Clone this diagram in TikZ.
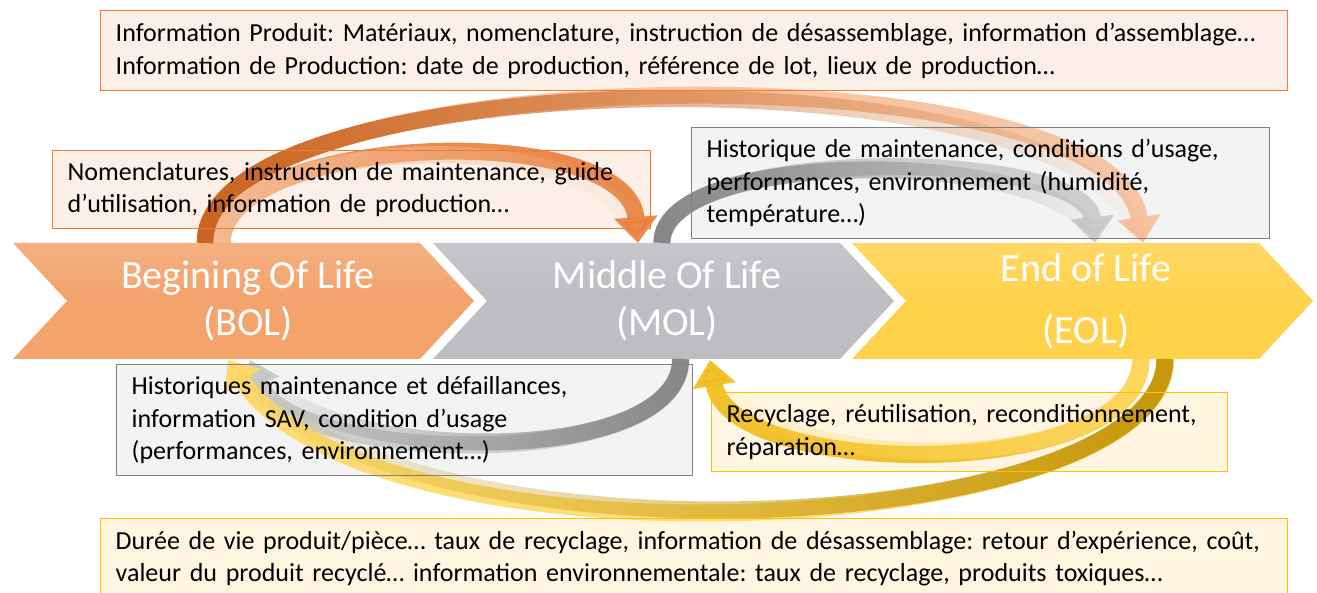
\documentclass[tikz,border=0pt]{standalone}
\usepackage{fontspec}
\setmainfont{Carlito}
\frenchspacing
\usetikzlibrary{arrows.meta,fadings}

\definecolor{bolorange}{HTML}{F3A36C}
\definecolor{molgray}{HTML}{BDBDC2}
\definecolor{eolyellow}{HTML}{FFD24C}
\definecolor{orgline}{HTML}{ED7D31}
\definecolor{orgfill}{HTML}{FBEFE7}
\definecolor{grayline}{HTML}{808080}
\definecolor{grayfill}{HTML}{F3F3F3}
\definecolor{yelline}{HTML}{FFC000}
\definecolor{yelfill}{HTML}{FFF5E1}
\definecolor{orgdark}{HTML}{C55A11}
\definecolor{orgmid}{HTML}{E8803C}
\definecolor{orglight}{HTML}{F6BF9A}
\definecolor{arrgray}{HTML}{7F7F7F}
\definecolor{arrgraylight}{HTML}{C9C9C9}
\definecolor{yeldark}{HTML}{BF9000}
\definecolor{yelmid}{HTML}{F0BC1A}
\definecolor{yellight}{HTML}{FFD966}

\pgfdeclarelayer{back}
\pgfdeclarelayer{flow}
\pgfsetlayers{back,flow,main}

\tikzset{
	infobox/.style={draw=#1, line width=1.4pt, anchor=north west, inner xsep=15pt,
		inner ysep=0pt, align=left, font=\fontsize{26}{32.5}\selectfont},
	phase/.style={text=white, align=center, inner sep=0pt, font=\fontsize{40}{47}\selectfont},
	flowarrow/.style n args={3}{line width=17pt, -{Triangle[length=26pt,width=42pt]}, draw=#1, opacity=0.9,
		postaction={draw=#2, path fading=#3, -}},
}

\begin{document}
\begin{tikzpicture}[x=1pt,y=-1pt]
	\useasboundingbox (0,0) rectangle (1317,593);

	% les trois phases
	\begin{pgfonlayer}{back}
		\foreach \x/\c in {13/bolorange, 433/molgray, 852/eolyellow} {
			\fill[\c] (\x,243) -- ++(407,0) -- ++(54,58) -- ++(-54,58) -- ++(-407,0) -- ++(54,-58) -- cycle;
			\fill[white, opacity=0.15, path fading=south] (\x,243) -- ++(407,0) -- ++(54,58) -- ++(-407,0) -- cycle;
		}
	\end{pgfonlayer}
	\node[phase] (bol) at (248,301) {Begining Of Life\\(BOL)};
	\node[phase] (mol) at (667,301) {Middle Of Life\\(MOL)};
	\node[phase, font=\fontsize{40}{62}\selectfont] (eol) at (1086,301) {End of Life\\(EOL)};

	% bouts des fleches
	\coordinate (bol a) at (206,243);
	\coordinate (bol b) at (222,243);
	\coordinate (bol c) at (250,360);
	\coordinate (bol d) at (228,360);
	\coordinate (mol a) at (638,243);
	\coordinate (mol b) at (662,243);
	\coordinate (mol c) at (681,359);
	\coordinate (mol d) at (710,360);
	\coordinate (eol a) at (1143,243);
	\coordinate (eol b) at (1095,243);
	\coordinate (eol c) at (1166,359);
	\coordinate (eol d) at (1141,359);

	% les boites
	\node[infobox=orgline, minimum width=1187pt, minimum height=80pt, text width=1157pt] (prodinfo) at (100,10)
		{Information Produit: Matériaux, nomenclature, instruction de désassemblage, information d’assemblage…\\
		Information de Production: date de production, référence de lot, lieux de production…};
	\node[infobox=orgline, minimum width=598pt, minimum height=78pt, text width=568pt] (bolinfo) at (52,150)
		{Nomenclatures, instruction de maintenance, guide\\d’utilisation, information de production…};
	\node[infobox=grayline, minimum width=578pt, minimum height=111pt, text width=548pt] (molinfo) at (691,127)
		{Historique de maintenance, conditions d’usage,\\performances, environnement (humidité,\\température…)};
	\node[infobox=grayline, minimum width=576pt, minimum height=111pt, text width=546pt] (molback) at (116,364)
		{Historiques maintenance et défaillances,\\information SAV, condition d’usage\\(performances, environnement…)};
	\node[infobox=yelline, minimum width=516pt, minimum height=79pt, text width=486pt] (eolback) at (711,392)
		{Recyclage, réutilisation, reconditionnement,\\réparation…};
	\node[infobox=yelline, minimum width=1187pt, minimum height=80pt, text width=1157pt] (eolinfo) at (100,518)
		{Durée de vie produit/pièce… taux de recyclage, information de désassemblage: retour d’expérience, coût,\\
		valeur du produit recyclé… information environnementale: taux de recyclage, produits toxiques…};

	\begin{pgfonlayer}{back}
		\foreach \b/\c in {prodinfo/orgfill, bolinfo/orgfill, molinfo/grayfill, molback/grayfill, eolback/yelfill, eolinfo/yelfill}
			\fill[\c] (\b.north west) rectangle (\b.south east);
	\end{pgfonlayer}

	% les fleches
	\begin{pgfonlayer}{flow}
		\draw[flowarrow={orglight}{orgdark}{east}] (bol a) .. controls +(0,-185) and +(-30,-200) .. (eol a);
		\draw[flowarrow={orgmid}{orglight}{east}] (bol b) .. controls +(0,-110) and +(-10,-125) .. (mol a);
		\draw[flowarrow={arrgraylight}{arrgray}{east}] (mol b) .. controls +(0,-100) and +(-10,-95) .. (eol b);
		\draw[flowarrow={arrgraylight}{arrgray}{west}] (mol c) .. controls +(0,115) and +(40,105) .. (bol c);
		\draw[flowarrow={yellight}{yeldark}{west}] (eol c) .. controls +(0,180) and +(150,220) .. (bol d);
		\draw[flowarrow={yelmid}{yellight}{west}] (eol d) .. controls +(0,125) and +(20,120) .. (mol d);
	\end{pgfonlayer}
\end{tikzpicture}
\end{document}
